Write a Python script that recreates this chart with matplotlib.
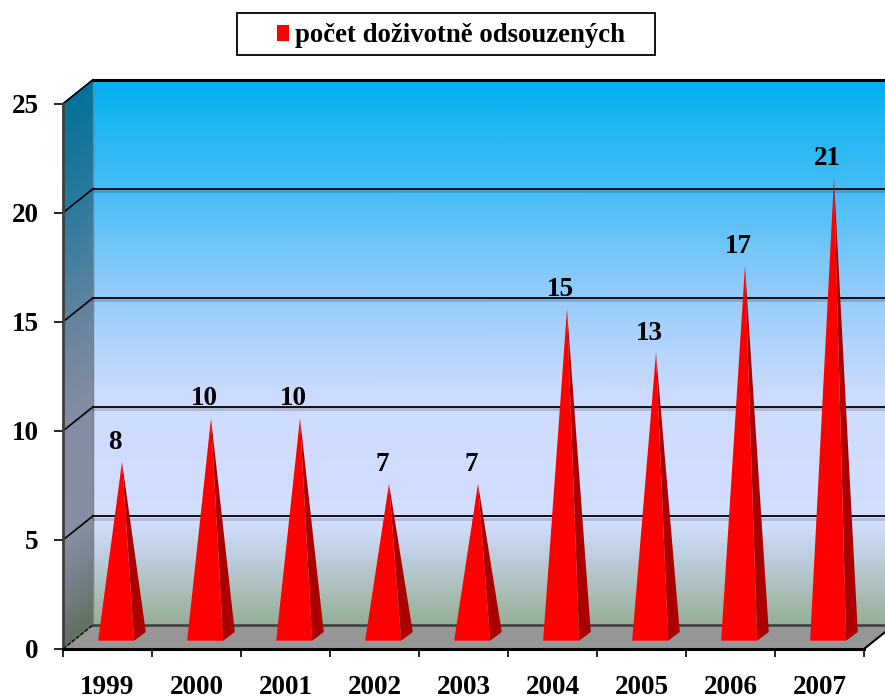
import numpy as np
import matplotlib
matplotlib.use('Agg')
import matplotlib.pyplot as plt
from matplotlib.colors import LinearSegmentedColormap, to_rgb
from matplotlib.patches import Patch, Polygon, Rectangle

years = ['1999', '2000', '2001', '2002', '2003', '2004', '2005', '2006', '2007']
counts = [8, 10, 10, 7, 7, 15, 13, 17, 21]
y_ticks = [0, 5, 10, 15, 20, 25]
legend_label = 'počet doživotně odsouzených'

# wall gradient, bottom to top
wall_stops = [(0.0, '#96AE98'), (0.046, '#A6BAB0'), (0.12, '#BCCCDC'), (0.19, '#D2DEFE'),
              (0.42, '#CDDBFE'), (0.6, '#97CCFA'), (0.8, '#45BDF6'), (1.0, '#02B0F0')]

plt.rcParams['font.family'] = ['Liberation Serif', 'DejaVu Serif']
plt.rcParams['font.weight'] = 'bold'

W, H = 885, 699
fig = plt.figure(figsize=(W / 100, H / 100), dpi=100)
ax = fig.add_axes([63 / W, (H - 649) / H, (W - 63) / W, (649 - 103.7) / H])
ax.set_xlim(0, (W - 63) / 89)
ax.set_ylim(0, 25)
ax.patch.set_visible(False)

# depth of the fake 3d box, in data units
dx = 30 / 89
dy = 24 / 21.8
x_max = ax.get_xlim()[1]

wall_cmap = LinearSegmentedColormap.from_list('wall', wall_stops)
side_cmap = LinearSegmentedColormap.from_list(
    'side', [(t, tuple(0.64 * c for c in to_rgb(col))) for t, col in wall_stops])

# back wall
t = np.linspace(0, 1, 120)
X, Y = np.meshgrid([dx, x_max], dy + t * 25)
C = np.column_stack([t, t])
m = ax.pcolormesh(X, Y, C, shading='gouraud', cmap=wall_cmap, vmin=0, vmax=1, zorder=1)
m.set_clip_on(False)

# left wall, sheared gradient
X = np.column_stack([np.zeros_like(t), np.full_like(t, dx)])
Y = np.column_stack([t * 25, t * 25 + dy])
m = ax.pcolormesh(X, Y, C, shading='gouraud', cmap=side_cmap, vmin=0, vmax=1, zorder=1)
m.set_clip_on(False)
ax.plot([dx, dx], [dy, 25 + dy], color='#808080', lw=1, zorder=2, clip_on=False)

# floor
ax.add_patch(Polygon([(0, 0), (9, 0), (9 + dx, dy), (dx, dy)], closed=True,
                     facecolor='#969696', edgecolor='none', zorder=2, clip_on=False))
ax.plot([dx, x_max], [dy, dy], color='#3C3C3C', lw=1.8, zorder=3, clip_on=False)
ax.plot([0, dx], [0, dy], color='black', lw=1, ls=(0, (3, 1)), zorder=3)
ax.plot([9, 9 + dx], [0, dy], color='black', lw=1.5, zorder=3, clip_on=False)

# grid on both walls
for v in y_ticks[1:]:
    lw = 2.2 if v == 25 else 1.3
    ax.plot([0, dx], [v, v + dy], color='black', lw=1.2, zorder=3, clip_on=False)
    ax.plot([dx, x_max], [v + dy, v + dy], color='black', lw=lw, zorder=3, clip_on=False)
    if v < 25:
        ax.plot([dx, x_max], [v + dy - 0.12] * 2, color='black', alpha=0.16, lw=2, zorder=2.5)

# pyramids
for i, v in enumerate(counts):
    xc = i + 0.5
    left = xc - 0.105
    right = xc + 0.30
    apex = (xc + 0.163, v + 0.58)
    base_y = 0.38
    back = (right + 0.13, base_y + 0.4)
    ax.add_patch(Polygon([(right, base_y), back, apex], closed=True,
                         facecolor='#AA0000', edgecolor='none', zorder=4))
    ax.add_patch(Polygon([(left, base_y), (right, base_y), apex], closed=True,
                         facecolor='#FF0000', edgecolor='none', zorder=5))
    ax.text(xc + 0.085, v + 1.47, str(v), ha='center', va='center',
            fontsize=19.5, fontweight='bold', color='black', zorder=6)

# axes
for s in ['top', 'right']:
    ax.spines[s].set_visible(False)
ax.spines['left'].set_linewidth(2)
ax.spines['left'].set_color('#404040')
ax.spines['bottom'].set_linewidth(2.2)
ax.spines['bottom'].set_bounds(0, 9)
ax.spines['left'].set_zorder(7)
ax.spines['bottom'].set_zorder(7)

ax.set_yticks(y_ticks)
ax.set_yticklabels([str(v) for v in y_ticks], fontsize=19.5, fontweight='bold')
ax.tick_params(axis='y', length=6.5, width=1.2, pad=11)

ax.set_xticks(np.arange(len(years) + 1))
ax.set_xticklabels([])
ax.set_xticks(np.arange(len(years)) + 0.5, minor=True)
ax.set_xticklabels(years, minor=True, fontsize=19.5, fontweight='bold')
ax.tick_params(axis='x', which='major', length=5.8, width=1.2)
ax.tick_params(axis='x', which='minor', length=0, pad=19)

# legend, box drawn separately to get the same padding
fig.add_artist(Rectangle((237 / W, 1 - 55 / H), 418 / W, 42 / H, transform=fig.transFigure,
                         facecolor='white', edgecolor='black', lw=1.3))
leg = fig.legend(handles=[Patch(facecolor='#FF0000', label=legend_label)],
                 loc='center left', bbox_to_anchor=(277 / W, 1 - 36 / H), frameon=False,
                 borderpad=0, borderaxespad=0, handlelength=0.46, handleheight=0.55,
                 handletextpad=0.2,
                 prop={'family': 'Liberation Serif', 'weight': 'bold', 'size': 19.3})

fig.savefig('out.png', dpi=100, facecolor='white')
